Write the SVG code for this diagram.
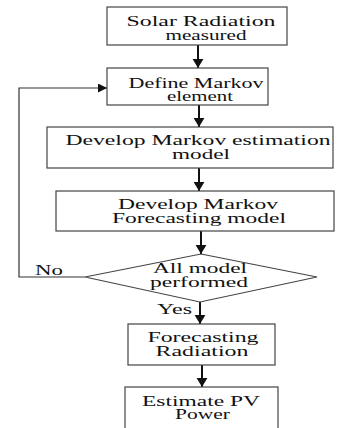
<svg xmlns="http://www.w3.org/2000/svg" width="337" height="428" viewBox="0 0 337 428">
<style>
.box{fill:#fff;stroke:#444;stroke-width:1.2}
.t{font-family:"Liberation Serif","Times New Roman",serif;font-size:14px;fill:#111;text-anchor:middle}
.c{fill:none;stroke:#111;stroke-width:2}
.fb{fill:none;stroke:#333;stroke-width:1.2}
</style>
<defs>
<marker id="ah" viewBox="0 0 10 12" markerWidth="9" markerHeight="12" refX="10" refY="6" orient="auto" markerUnits="userSpaceOnUse">
<path d="M0,0 L10,6 L0,12 z" fill="#111"/>
</marker>
<marker id="ah2" viewBox="0 0 10 10" markerWidth="11" markerHeight="9" refX="10" refY="5" orient="auto" markerUnits="userSpaceOnUse">
<path d="M0,0 L10,5 L0,10 z" fill="#111"/>
</marker>
</defs>
<rect width="337" height="428" fill="#fff"/>
<g id="connectors">
<line class="c" x1="198" y1="45" x2="198" y2="68" marker-end="url(#ah)"/>
<line class="c" x1="199" y1="105" x2="199" y2="127" marker-end="url(#ah)"/>
<line class="c" x1="199" y1="168" x2="199" y2="191" marker-end="url(#ah)"/>
<line class="c" x1="201" y1="231" x2="201" y2="254" marker-end="url(#ah)"/>
<line class="c" x1="200" y1="302" x2="200" y2="324" marker-end="url(#ah)"/>
<line class="c" x1="202" y1="365" x2="202" y2="387" marker-end="url(#ah)"/>
<polyline class="fb" points="85,277 19,277 19,88 107,88" marker-end="url(#ah2)"/>
<text class="t" x="49" y="275" textLength="28" lengthAdjust="spacingAndGlyphs">No</text>
<text class="t" x="174.5" y="314" textLength="35" lengthAdjust="spacingAndGlyphs">Yes</text>
</g>
<g id="n1">
<rect class="box" x="107" y="7" width="180" height="38"/>
<text class="t" x="201" y="25.5" textLength="149" lengthAdjust="spacingAndGlyphs">Solar Radiation</text>
<text class="t" x="206" y="39.5" textLength="81" lengthAdjust="spacingAndGlyphs">measured</text>
</g>
<g id="n2">
<rect class="box" x="107" y="68" width="161" height="37"/>
<text class="t" x="196" y="87.5" textLength="135" lengthAdjust="spacingAndGlyphs">Define Markov</text>
<text class="t" x="200" y="101" textLength="66" lengthAdjust="spacingAndGlyphs">element</text>
</g>
<g id="n3">
<rect class="box" x="47" y="127" width="286" height="41"/>
<text class="t" x="198" y="144.5" textLength="265" lengthAdjust="spacingAndGlyphs">Develop Markov estimation</text>
<text class="t" x="201" y="158.5" textLength="58" lengthAdjust="spacingAndGlyphs">model</text>
</g>
<g id="n4">
<rect class="box" x="56" y="191" width="278" height="40"/>
<text class="t" x="198" y="208.5" textLength="160" lengthAdjust="spacingAndGlyphs">Develop Markov</text>
<text class="t" x="199" y="222.5" textLength="174" lengthAdjust="spacingAndGlyphs">Forecasting model</text>
</g>
<g id="n5">
<polygon class="box" points="201,254 317,277 200,302 85,277"/>
<text class="t" x="200" y="273" textLength="94" lengthAdjust="spacingAndGlyphs">All model</text>
<text class="t" x="199" y="287" textLength="98" lengthAdjust="spacingAndGlyphs">performed</text>
</g>
<g id="n6">
<rect class="box" x="128" y="324" width="147" height="41"/>
<text class="t" x="203" y="341.5" textLength="111" lengthAdjust="spacingAndGlyphs">Forecasting</text>
<text class="t" x="202" y="355.5" textLength="93" lengthAdjust="spacingAndGlyphs">Radiation</text>
</g>
<g id="n7">
<rect class="box" x="125" y="387" width="153" height="50"/>
<text class="t" x="201" y="405.5" textLength="118" lengthAdjust="spacingAndGlyphs">Estimate PV</text>
<text class="t" x="202.5" y="419" textLength="55" lengthAdjust="spacingAndGlyphs">Power</text>
</g>
</svg>
